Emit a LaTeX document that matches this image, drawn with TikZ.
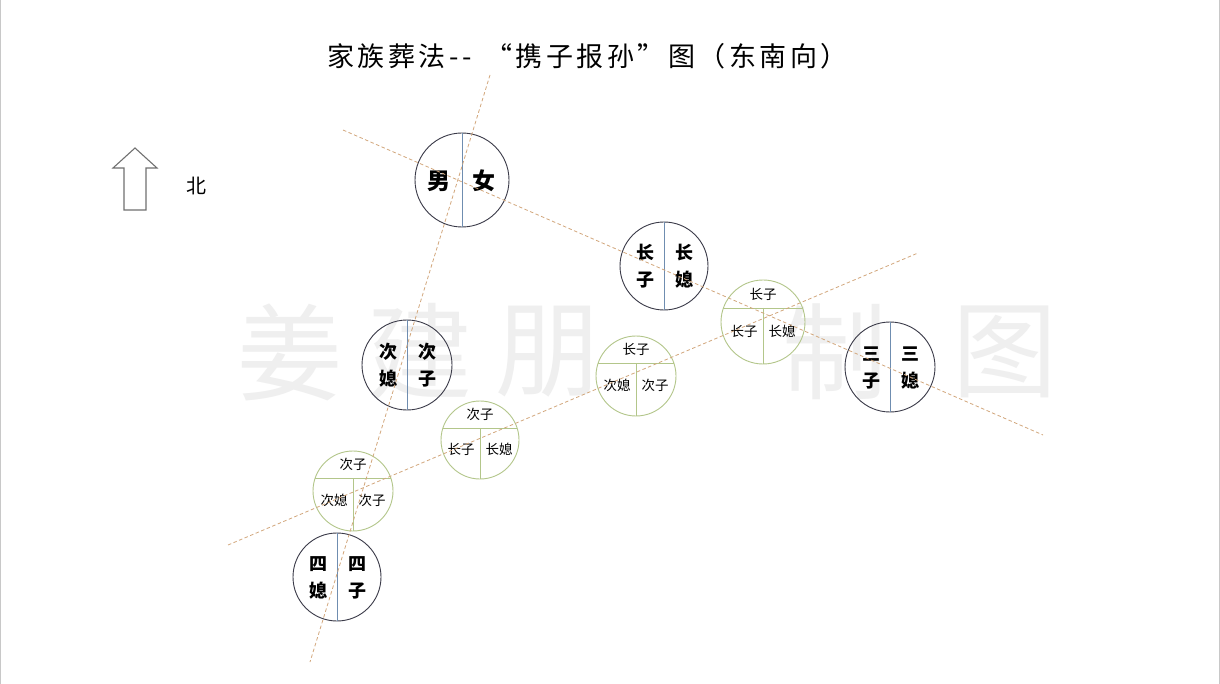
\documentclass[tikz,border=0pt]{standalone}
\usepackage{fontspec}
\setmainfont{Noto Sans CJK SC}
\newfontfamily\titlefont[LetterSpace=13]{Noto Sans CJK SC}
\usetikzlibrary{calc}
\definecolor{ring}{HTML}{3A3A48}
\definecolor{divider}{HTML}{6F8DB0}
\definecolor{greenring}{HTML}{B3C68A}
\definecolor{guide}{HTML}{D2A77C}
\definecolor{wm}{HTML}{EFEFEF}
\definecolor{arrowgray}{HTML}{707070}
\definecolor{frame}{HTML}{C8C8C8}
\newcommand\greenpair[8]{%
  \node[smallring, minimum size=2*#4pt] (#1) at (#2,#3) {};
  \pgfmathsetmacro\halfw{sqrt(#4*#4-#5*#5)}
  \draw[greenline] ($(#1)+(-\halfw,-#5)$) coordinate (#1hl) -- ($(#1)+(\halfw,-#5)$) coordinate (#1hr);
  \draw[greenline] ($(#1)+(0,-#5)$) coordinate (#1vt) -- (#1.south);
  \node[smallchar] (#1t) at ($(#1)+(0,{-(#4+#5)/2})$) {#6};
  \node[smallchar] (#1l) at ($(#1)+(-19,9)$) {#7};
  \node[smallchar] (#1r) at ($(#1)+(19,9)$) {#8};
}
\newcommand\bigpair[8]{%
  \node[bigring, minimum size=2*#4pt] (#1) at (#2,#3) {};
  \draw[divline] (#1.north) -- (#1.south);
  \node[bigchar] (#1a) at ($(#1)+(-19,-13)$) {#5};
  \node[bigchar] (#1b) at ($(#1)+(-19,14)$) {#6};
  \node[bigchar] (#1c) at ($(#1)+(20,-13)$) {#7};
  \node[bigchar] (#1d) at ($(#1)+(20,14)$) {#8};
}
\begin{document}
\begin{tikzpicture}[x=1pt,y=-1pt,
  guideline/.style={guide, line width=0.8pt, dash pattern=on 3.5pt off 2.5pt},
  bigring/.style={circle, draw=ring, line width=0.9pt, inner sep=0pt},
  smallring/.style={circle, draw=greenring, line width=0.9pt, inner sep=0pt},
  greenline/.style={greenring, line width=0.9pt},
  divline/.style={divider, line width=1pt},
  bigchar/.style={font=\fontsize{18}{18}\selectfont\bfseries, inner sep=0pt},
  smallchar/.style={font=\fontsize{13.5}{14}\selectfont, inner sep=0pt},
  wmchar/.style={wm, font=\fontsize{105}{105}\selectfont, inner sep=0pt}]
\useasboundingbox (0,0) rectangle (1220,684);
\fill[white] (0,0) rectangle (1220,684);
\draw[frame, line width=1pt] (0.5,0.5) -- (0.5,684);
\draw[frame, line width=1pt] (1219.5,0.5) -- (1219.5,684);
% watermark
\node[wmchar] (w1) at (290,352) {姜};
\node[wmchar] (w2) at (420,352) {建};
\node[wmchar] (w3) at (548,352) {朋};
\node[wmchar] (w4) at (835,352) {制};
\node[wmchar] (w5) at (1005,352) {图};
% title
\node[font=\fontsize{27}{27}\titlefont, inner sep=0pt, anchor=west] (title) at (327,56) {家族葬法-{}- \kern4pt“携子报孙”图（东南向）};
% north arrow
\draw[arrowgray, line width=1.1pt, line join=miter] (124,210) -- (146,210) -- (146,168) -- (157,168) -- (135,148) -- (113,168) -- (124,168) -- cycle;
\node[font=\fontsize{20}{20}\selectfont, inner sep=0pt] (north) at (196,186) {北};
% big circles
\node[bigring, minimum size=94pt] (mn) at (462,180) {};
\draw[divline] (mn.north) -- (mn.south);
\node[font=\fontsize{23}{23}\selectfont\bfseries, inner sep=0pt] (nan) at (439,181) {男};
\node[font=\fontsize{23}{23}\selectfont\bfseries, inner sep=0pt] (nv) at (484,181) {女};
\bigpair{c1}{664}{266}{44}{长}{子}{长}{媳}
\bigpair{c2}{407}{365}{45}{次}{媳}{次}{子}
\bigpair{c3}{890}{367}{45}{三}{子}{三}{媳}
\bigpair{c4}{337}{577}{44}{四}{媳}{四}{子}
% green circles
\greenpair{g1}{763}{322}{42}{14}{长子}{长子}{长媳}
\greenpair{g2}{636}{376}{40}{13}{长子}{次媳}{次子}
\greenpair{g3}{480}{440}{39}{12}{次子}{长子}{长媳}
\greenpair{g4}{353}{491}{40}{13}{次子}{次媳}{次子}
% guide lines
\coordinate (a1) at (343,130);
\coordinate (a2) at (1043,435);
\coordinate (b1) at (490,75);
\coordinate (b2) at (310,662);
\coordinate (d1) at (228,545);
\coordinate (d2) at (918,253);
\draw[guideline] (a1) -- (a2);
\draw[guideline] (b1) -- (b2);
\draw[guideline] (d1) -- (d2);
\end{tikzpicture}
\end{document}
